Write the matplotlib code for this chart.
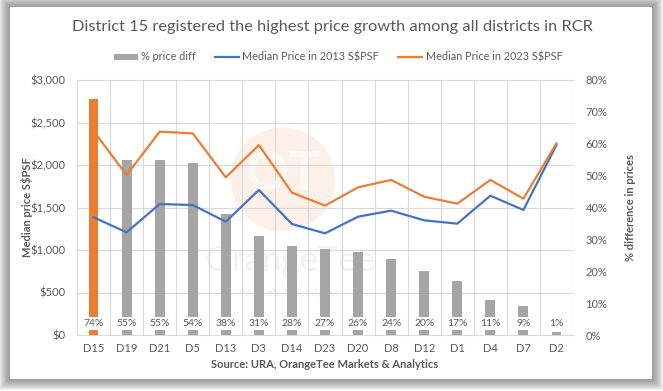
import matplotlib
matplotlib.use("Agg")
import matplotlib.pyplot as plt
from matplotlib.patches import Rectangle, Ellipse, Patch
from matplotlib.lines import Line2D
from matplotlib.transforms import blended_transform_factory
import numpy as np

# ---------------- data ----------------
districts = ["D15", "D19", "D21", "D5", "D13", "D3", "D14", "D23", "D20", "D8",
             "D12", "D1", "D4", "D7", "D2"]
pct_diff = [74, 55, 55, 54, 38, 31, 28, 27, 26, 24, 20, 17, 11, 9, 1]
price_2013 = [1385, 1208, 1541, 1529, 1333, 1706, 1306, 1196, 1392, 1463,
              1349, 1310, 1639, 1471, 2235]
price_2023 = [2400, 1882, 2392, 2372, 1855, 2235, 1675, 1522, 1737, 1824,
              1627, 1545, 1824, 1604, 2255]
price_ticks = [0, 500, 1000, 1500, 2000, 2500, 3000]
price_labels = ["$0", "$500", "$1,000", "$1,500", "$2,000", "$2,500", "$3,000"]
pct_ticks = [0, 10, 20, 30, 40, 50, 60, 70, 80]
pct_labels = ["0%", "10%", "20%", "30%", "40%", "50%", "60%", "70%", "80%"]

title = "District 15 registered the highest price growth among all districts in RCR"
source = "Source: URA, OrangeTee Markets & Analytics"

# ---------------- style ----------------
BLUE = "#4472C4"
ORANGE = "#ED7D31"
GRAY_BAR = "#A5A5A5"
TXT = "#595959"
GRID = "#D9D9D9"
FONT = ["Lato", "DejaVu Sans"]

plt.rcParams["font.family"] = FONT
plt.rcParams["hatch.color"] = "#E0E0E0"
plt.rcParams["hatch.linewidth"] = 0.6

W, H = 663, 391
fig = plt.figure(figsize=(W / 100, H / 100), dpi=100)
fig.patch.set_facecolor("white")

def fx(px):
    return px / W

def fy(py):
    return 1 - py / H

# card with shadow
cx0, cy0, cx1, cy1 = 10, 7, 652, 379
for k in range(11, 0, -1):
    fig.patches.append(Rectangle((fx(cx0 - k), fy(cy1 + k)), fx(cx1 - cx0 + 2 * k),
                                 (cy1 - cy0 + 2 * k) / H, transform=fig.transFigure,
                                 facecolor="#6f6f6f", edgecolor="none", alpha=0.09,
                                 zorder=-20))
fig.patches.append(Rectangle((fx(cx0), fy(cy1)), fx(cx1 - cx0), (cy1 - cy0) / H,
                             transform=fig.transFigure, facecolor="white",
                             edgecolor="none", zorder=-10))

# axes geometry
L, R, T, B = 77, 573, 80, 335
rect = [fx(L), fy(B), fx(R - L), (B - T) / H]
ax_pct = fig.add_axes(rect)
ax_price = ax_pct.twinx()
ax_pct.set_zorder(0)
ax_price.set_zorder(1)
ax_price.patch.set_visible(False)

x = np.arange(len(districts))

# hatched background
ax_pct.patch.set_facecolor("white")
ax_pct.patch.set_hatch("\\\\\\\\")

# watermark
ax_pct.add_patch(Ellipse((0.415, 0.61), 0.21, 0.408, transform=ax_pct.transAxes,
                         facecolor="#F8CBAD", edgecolor="none", alpha=0.28, zorder=0.5))
ax_pct.text(0.415, 0.63, "OT", transform=ax_pct.transAxes, ha="center", va="center",
            fontsize=38, color="white", alpha=0.55, fontweight="bold", zorder=0.6)
ax_pct.text(0.43, 0.29, "OrangeTee", transform=ax_pct.transAxes, ha="center",
            va="center", fontsize=25, color="#c8c8c8", alpha=0.25, zorder=0.6)
ax_pct.text(0.43, 0.165, "Markets & Analytics", transform=ax_pct.transAxes,
            ha="center", va="center", fontsize=8, color="#c8c8c8", alpha=0.25,
            zorder=0.6)

# gridlines (price scale) drawn in lower axes
gtrans = blended_transform_factory(ax_pct.transAxes, ax_price.transData)
for v in price_ticks:
    ax_pct.plot([0, 1], [v, v], transform=gtrans, color=GRID, lw=0.8, zorder=1,
                clip_on=False)
ax_pct.set_xticks(np.arange(len(districts) + 1) - 0.5, minor=True)
ax_pct.grid(True, which="minor", axis="x", color=GRID, lw=0.8, zorder=1)
ax_pct.set_axisbelow(True)

# bars
colors = [ORANGE] + [GRAY_BAR] * (len(districts) - 1)
ax_pct.bar(x, pct_diff, width=0.3, color=colors, zorder=2)
ltrans = blended_transform_factory(ax_pct.transData, ax_pct.transAxes)
for xi, v in zip(x, pct_diff):
    ax_pct.text(xi, 0.045, f"{v}%", transform=ltrans, ha="center", va="center",
                fontsize=7.5, color=TXT, zorder=3,
                bbox=dict(facecolor="white", edgecolor="none", pad=1.6))

# lines
ax_price.plot(x, price_2013, color=BLUE, lw=1.6, zorder=3)
ax_price.plot(x, price_2023, color=ORANGE, lw=1.6, zorder=3)

# axes limits / ticks
ax_pct.set_xlim(-0.5, len(districts) - 0.5)
ax_pct.set_ylim(0, 80)
ax_price.set_ylim(0, 3000)
ax_pct.set_xticks(x)
ax_pct.set_xticklabels(districts)
ax_pct.set_yticks(pct_ticks)
ax_pct.set_yticklabels(pct_labels)
ax_price.set_yticks(price_ticks)
ax_price.set_yticklabels(price_labels)

# left: price ticks, right: pct ticks
ax_pct.yaxis.tick_right()
ax_price.yaxis.tick_left()
for a in (ax_pct, ax_price):
    for s in a.spines.values():
        s.set_visible(False)
ax_pct.tick_params(axis="x", which="both", length=0, pad=6, labelsize=8, colors=TXT)
ax_pct.tick_params(axis="y", length=0, pad=9, labelsize=8, colors=TXT)
ax_price.tick_params(axis="y", length=0, pad=8, labelsize=8, colors=TXT)

# axis titles
fig.text(fx(27), fy(207.5), "Median price S$PSF", rotation=90, ha="center",
         va="center", fontsize=8, fontweight="bold", color=TXT)
fig.text(fx(630), fy(207.5), "% difference in prices", rotation=90, ha="center",
         va="center", fontsize=8, fontweight="bold", color=TXT)

# title (fit to target width)
t = fig.text(fx(332), fy(27), title, ha="center", va="center", fontsize=13,
             color=TXT, fontweight="normal")
fig.canvas.draw()
w = t.get_window_extent().width
t.set_fontsize(13 * 520 / w)

# legend
handles = [Patch(facecolor=GRAY_BAR, edgecolor="none"),
           Line2D([], [], color=BLUE, lw=1.6),
           Line2D([], [], color=ORANGE, lw=1.6)]
labels = ["% price diff", "Median Price in 2013 S$PSF", "Median Price in 2023 S$PSF"]
leg = fig.legend(handles, labels, loc="center", bbox_to_anchor=(fx(338), fy(57)),
                 ncol=3, frameon=False, fontsize=7.8, labelcolor=TXT,
                 handlelength=2.2, handleheight=0.5, columnspacing=1.8,
                 handletextpad=0.3)

# source
fig.text(fx(325), fy(364), source, ha="center", va="center", fontsize=8,
         fontweight="bold", color=TXT)

fig.savefig("out.png", dpi=100)
